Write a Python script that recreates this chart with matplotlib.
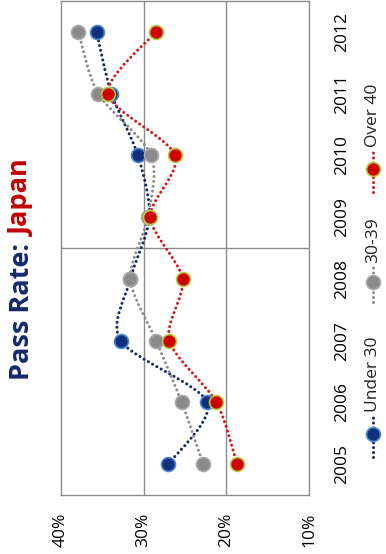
import numpy as np
import matplotlib
matplotlib.use("Agg")
import matplotlib.pyplot as plt
from matplotlib.path import Path
from matplotlib.patches import PathPatch
from matplotlib.lines import Line2D

plt.rcParams['font.family'] = ['Open Sans', 'DejaVu Sans']

years = [2005, 2006, 2007, 2008, 2009, 2010, 2011, 2012]
under_30 = [27.0, 22.3, 32.8, 31.6, 29.3, 30.7, 33.9, 35.7]
age_30_39 = [22.8, 25.4, 28.5, 31.6, 29.5, 29.1, 35.5, 37.9]
over_40 = [18.7, 21.2, 26.9, 25.3, 29.2, 26.2, 34.3, 28.5]
series_names = ['Under 30', '30-39', 'Over 40']
value_ticks = [40, 30, 20, 10]

W, H = 386, 554
fig = plt.figure(figsize=(W / 100, H / 100), dpi=100)

def fx(px):
    return px / W

def fy(py):
    return 1 - py / H

# chart is laid out sideways: values run left->right (high to low), years bottom->top
ax = fig.add_axes([fx(61), fy(495), fx(309) - fx(61), fy(1) - fy(495)])
ax.set_xlim(40, 10)
ax.set_ylim(2004.5, 2012.5)
for s in ax.spines.values():
    s.set_color('#8c8c8c')
    s.set_linewidth(1)
for v in [30, 20]:
    ax.axvline(v, color='#8c8c8c', lw=1, zorder=1)
ax.axhline(2008.5, color='#8c8c8c', lw=1, zorder=1)

ax.set_xticks(value_ticks)
ax.set_xticklabels([f'{v}%' for v in value_ticks], rotation=90, fontsize=12.5)
ax.tick_params(axis='x', length=0, pad=13)
ax.yaxis.tick_right()
ax.set_yticks(years)
ax.set_yticklabels([str(y) for y in years], rotation=90, va='center', fontsize=12.5)
ax.tick_params(axis='y', length=0, pad=18)


def smooth_path(xs, ys):
    pts = np.column_stack([xs, ys])
    verts = [pts[0]]
    codes = [Path.MOVETO]
    n = len(pts)
    for i in range(n - 1):
        p0 = pts[i - 1] if i > 0 else pts[i]
        p1 = pts[i]
        p2 = pts[i + 1]
        p3 = pts[i + 2] if i + 2 < n else pts[i + 1]
        c1 = p1 + (p2 - p0) / 7
        c2 = p2 - (p3 - p1) / 7
        verts += [c1, c2, p2]
        codes += [Path.CURVE4] * 3
    return Path(verts, codes)


styles = [
    dict(line='#14296a', face='#10307c', edge='#4a86d4'),
    dict(line='#8e8e8e', face='#8a8a8a', edge='#a8a8a8'),
    dict(line='#d81818', face='#d00000', edge='#b8c83a'),
]
dots = (0, (0.01, 1.6))

for k, (vals, st) in enumerate(zip([under_30, age_30_39, over_40], styles)):
    patch = PathPatch(smooth_path(vals, years), fill=False, edgecolor=st['line'],
                      lw=2.2, linestyle=dots, capstyle='round', zorder=3 + k)
    ax.add_patch(patch)
    ax.plot(vals, years, 'o', ms=10, mfc=st['face'], mec=st['edge'], mew=1.2,
            zorder=6 + k)

# title, two colours, reading upwards and centred on the plot
title_font = dict(rotation=90, ha='center', va='bottom', fontsize=19.5, fontweight='bold')
t1 = fig.text(fx(22), fy(375), 'Pass Rate: ', color='#162a6b', **title_font)
fig.canvas.draw()
bb = t1.get_window_extent()
t2 = fig.text(fx(22), bb.y1 / fig.dpi / fig.get_figheight(), 'Japan', color='#c00000',
              **title_font)
fig.canvas.draw()
top = t2.get_window_extent().y1
shift = ((bb.y0 + top) / 2 - (H - 270)) / fig.dpi / fig.get_figheight()
for t in (t1, t2):
    xx, yy = t.get_position()
    t.set_position((xx, yy - shift))

# legend, drawn sideways in the right margin
legend_starts = [457, 302, 192]
handle_len = [42, 36, 42]
for name, st, y0, hl in zip(series_names, styles, legend_starts, handle_len):
    x = fx(373)
    fig.add_artist(Line2D([x, x], [fy(y0), fy(y0 - hl)], transform=fig.transFigure,
                          color=st['line'], lw=2.2, linestyle=dots,
                          dash_capstyle='round'))
    fig.add_artist(Line2D([x], [fy(y0 - hl / 2 - 2)], transform=fig.transFigure,
                          marker='o', ms=10, mfc=st['face'], mec=st['edge'], mew=1.2))
    fig.text(x, fy(y0 - hl - 3), name, rotation=90, ha='center', va='bottom',
             fontsize=12.5, color='#222222')

fig.savefig('out.png', dpi=100)
